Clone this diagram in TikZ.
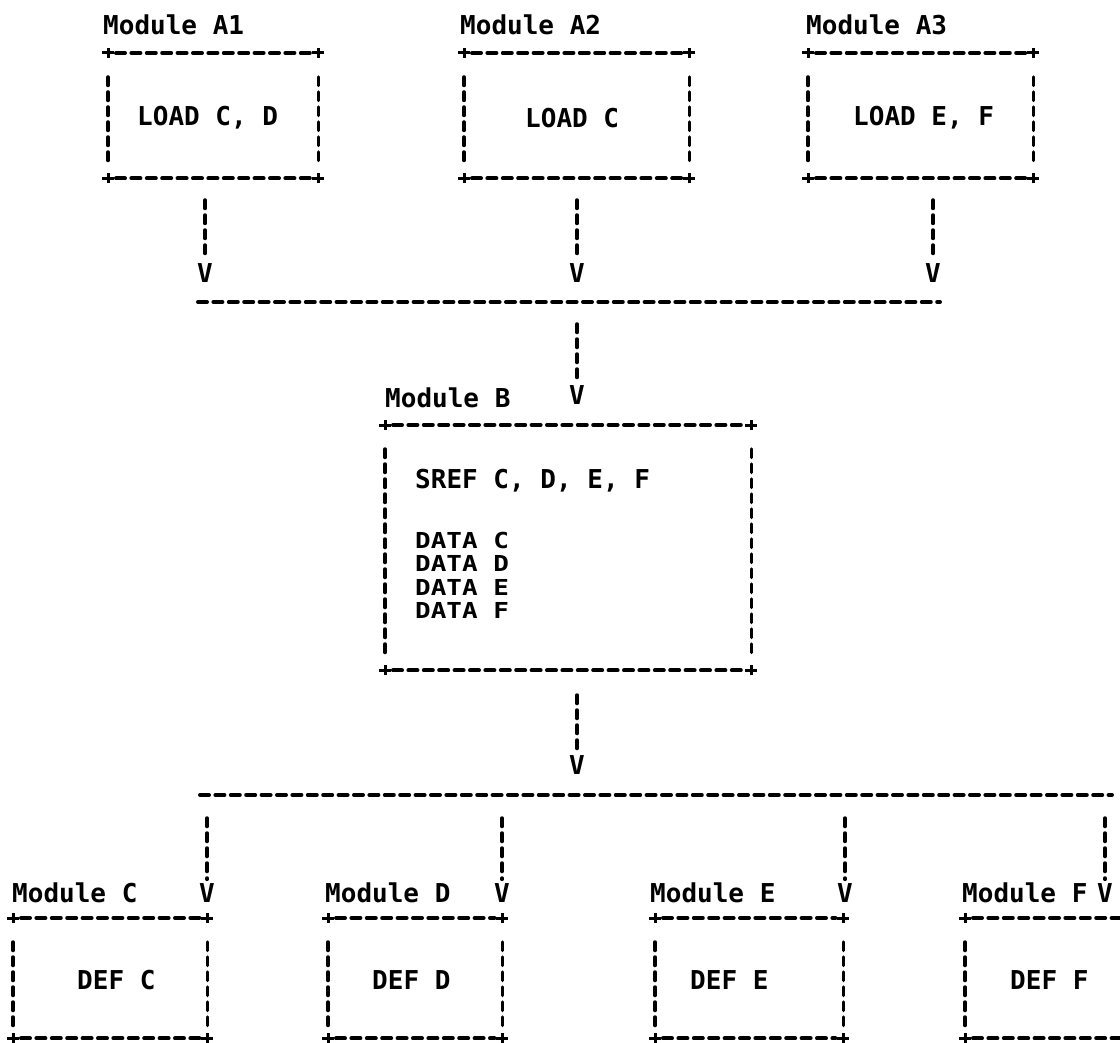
\documentclass[tikz,border=0pt]{standalone}
\usepackage{fontspec}
\setmonofont{DejaVu Sans Mono}
\newfontfamily\datafont[FakeStretch=1.18]{DejaVu Sans Mono}
\usetikzlibrary{positioning,calc}

\begin{document}
\begin{tikzpicture}
[x=1pt,y=-1pt,
 txt/.style={font=\ttfamily\bfseries\fontsize{26}{28}\selectfont,inner sep=0pt,anchor=west},
 vhead/.style={font=\ttfamily\bfseries\fontsize{26}{28}\selectfont,inner sep=0pt},
 modbox/.style={rectangle,inner sep=0pt,anchor=north west,minimum height=#1},
 hline/.style={line width=4pt,line cap=round,dash pattern=on 9pt off 6.4pt},
 vline/.style={line width=3.5pt,line cap=round,dash pattern=on 8.5pt off 6.5pt},
 plus/.style={line width=3pt}];
\clip (0,0) rectangle (1120,1043);

% boxes
\node[modbox=125,minimum width=210] (a1) at (108,53) {};
\node[modbox=125,minimum width=225] (a2) at (464,53) {};
\node[modbox=125,minimum width=225] (a3) at (808,53) {};
\node[modbox=245,minimum width=366] (b) at (385,425) {};
\node[modbox=120,minimum width=194] (c) at (13,918) {};
\node[modbox=120,minimum width=174] (d) at (328,918) {};
\node[modbox=120,minimum width=188] (e) at (655,918) {};
\node[modbox=120,minimum width=200] (f) at (965,918) {};

\foreach \b in {a1,a2,a3,b,c,d,e,f}{
  \draw[hline,shorten <=8pt,shorten >=8pt] (\b.north west) -- (\b.north east);
  \draw[hline,shorten <=8pt,shorten >=8pt] (\b.south west) -- (\b.south east);
  \draw[vline] ([yshift=-24pt]\b.north west) -- ([yshift=12pt]\b.south west);
  \draw[vline] ([yshift=-24pt]\b.north east) -- ([yshift=12pt]\b.south east);
  \foreach \k in {north west,north east,south west,south east}
    \draw[plus] ([xshift=-6pt]\b.\k) -- ([xshift=6pt]\b.\k)
                ([yshift=-5pt]\b.\k) -- ([yshift=5pt]\b.\k);
}

% labels
\node[txt] (la1) at (103,25) {Module A1};
\node[txt] (la2) at (460,25) {Module A2};
\node[txt] (la3) at (806,25) {Module A3};
\node[txt] (lb) at (385,398) {Module B};
\node[txt] (lc) at (12,893) {Module C};
\node[txt] (ld) at (325,893) {Module D};
\node[txt] (le) at (650,893) {Module E};
\node[txt] (lf) at (962,893) {Module F};

% box contents
\node[txt] (ta1) at (137,118) {LOAD C, D};
\node[txt] (ta2) at (525,118) {LOAD C};
\node[txt] (ta3) at (853,118) {LOAD E, F};
\node[txt] (sref) at (415,481) {SREF C, D, E, F};
\node[txt,font=\datafont\bfseries\fontsize{22}{24}\selectfont] (dc) at (415,540) {DATA C};
\node[txt,font=\datafont\bfseries\fontsize{22}{24}\selectfont] (dd) at (415,563.5) {DATA D};
\node[txt,font=\datafont\bfseries\fontsize{22}{24}\selectfont] (de) at (415,587) {DATA E};
\node[txt,font=\datafont\bfseries\fontsize{22}{24}\selectfont] (df) at (415,610.5) {DATA F};
\node[txt] (tc) at (77,980) {DEF C};
\node[txt] (td) at (372,980) {DEF D};
\node[txt] (te) at (690,980) {DEF E};
\node[txt] (tf) at (1010,980) {DEF F};

% arrow heads
\node[vhead] (va1) at (205,273) {V};
\node[vhead] (va2) at (577,273) {V};
\node[vhead] (va3) at (933,273) {V};
\node[vhead] (vb) at (577,395) {V};
\node[vhead] (vbo) at (577,765) {V};
\node[vhead] (vc) at (207,893) {V};
\node[vhead] (vd) at (502,893) {V};
\node[vhead] (ve) at (845,893) {V};
\node[vhead] (vf) at (1105,893) {V};

% buses
\coordinate (bus1w) at (198,302);
\coordinate (bus1e) at (940,302);
\coordinate (bus2w) at (200,795);
\coordinate (bus2e) at (1112,795);
\draw[hline] (bus1w) -- (bus1e);
\draw[hline] (bus2w) -- (bus2e);

% drops
\foreach \v in {va1,va2,va3}
  \draw[vline] (\v |- 0,200) -- ([yshift=4pt]\v.north);
\draw[vline] (vb |- 0,324) -- ([yshift=4pt]vb.north);
\draw[vline] (vbo |- 0,695) -- ([yshift=4pt]vbo.north);
\foreach \v in {vc,vd,ve,vf}
  \draw[vline] (\v |- 0,818) -- ([yshift=4pt]\v.north);
\end{tikzpicture}
\end{document}
